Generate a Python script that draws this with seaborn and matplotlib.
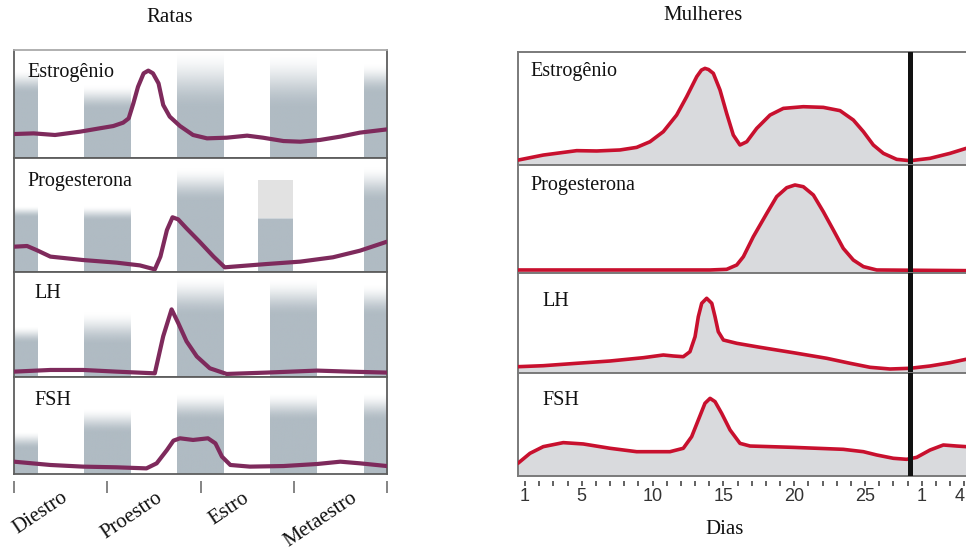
import numpy as np
import pandas as pd
import matplotlib
matplotlib.use("Agg")
import matplotlib.pyplot as plt
from matplotlib.patches import Rectangle
import matplotlib.transforms as mtransforms
import seaborn as sns

# ---------------- data ----------------
hormones = ["Estrogênio", "Progesterona", "LH", "FSH"]
rat_phases = ["Diestro", "Proestro", "Estro", "Metaestro"]
rat_phase_ticks = [0, 1, 2, 3, 4]

rat_estr_x = [0, 0.21, 0.44, 0.71, 0.92, 1.065, 1.17, 1.23, 1.28, 1.33, 1.39, 1.44, 1.49, 1.55, 1.60, 1.67, 1.78, 1.92, 2.07, 2.28, 2.50, 2.67, 2.89, 3.07, 3.28, 3.50, 3.71, 4.0]
rat_estr_y = [0.222, 0.228, 0.213, 0.244, 0.275, 0.296, 0.327, 0.367, 0.506, 0.66, 0.784, 0.809, 0.784, 0.691, 0.491, 0.383, 0.296, 0.213, 0.182, 0.188, 0.207, 0.188, 0.157, 0.151, 0.167, 0.198, 0.235, 0.265]

rat_prog_x = [0, 0.14, 0.24, 0.39, 0.74, 1.10, 1.35, 1.51, 1.57, 1.64, 1.70, 1.76, 1.85, 1.99, 2.14, 2.26, 2.35, 2.71, 3.07, 3.42, 3.71, 4.0]
rat_prog_y = [0.222, 0.228, 0.193, 0.135, 0.105, 0.082, 0.058, 0.023, 0.135, 0.368, 0.48, 0.462, 0.383, 0.266, 0.135, 0.041, 0.047, 0.070, 0.091, 0.129, 0.187, 0.266]

rat_lh_x = [0, 0.39, 0.74, 1.10, 1.51, 1.60, 1.69, 1.76, 1.85, 1.96, 2.10, 2.28, 2.71, 3.25, 3.60, 4.0]
rat_lh_y = [0.051, 0.067, 0.067, 0.051, 0.035, 0.388, 0.644, 0.516, 0.340, 0.196, 0.083, 0.029, 0.042, 0.061, 0.051, 0.042]

rat_fsh_x = [0, 0.39, 0.74, 1.10, 1.42, 1.53, 1.64, 1.71, 1.78, 1.92, 2.08, 2.16, 2.23, 2.32, 2.53, 2.89, 3.25, 3.50, 3.71, 4.0]
rat_fsh_y = [0.127, 0.093, 0.076, 0.069, 0.058, 0.110, 0.247, 0.344, 0.368, 0.351, 0.368, 0.316, 0.179, 0.093, 0.076, 0.082, 0.103, 0.127, 0.110, 0.082]

day_ticks = [1, 5, 10, 15, 20, 25, 29, 32]
day_tick_labels = ["1", "5", "10", "15", "20", "25", "1", "4"]
menses_day = 28.2

w_estr_x = [0.53, 2.29, 4.65, 6.06, 7.70, 8.88, 9.82, 10.76, 11.70, 12.41, 13.12, 13.45, 13.70, 13.95, 14.29, 14.76, 15.23, 15.70, 16.17, 16.65, 17.35, 18.29, 19.23, 20.64, 22.05, 23.23, 24.17, 24.88, 25.58, 26.29, 27.23, 28.17, 29.58, 30.99, 32.12]
w_estr_y = [0.044, 0.088, 0.127, 0.124, 0.133, 0.156, 0.206, 0.295, 0.442, 0.605, 0.782, 0.84, 0.855, 0.845, 0.811, 0.664, 0.457, 0.265, 0.177, 0.206, 0.324, 0.442, 0.501, 0.516, 0.510, 0.481, 0.398, 0.295, 0.177, 0.103, 0.050, 0.038, 0.059, 0.103, 0.147]

w_prog_x = [0.53, 14.06, 15.23, 15.94, 16.41, 17.11, 18.06, 18.76, 19.47, 20.05, 20.64, 21.35, 22.05, 22.76, 23.46, 24.17, 24.88, 25.82, 32.12]
w_prog_y = [0.028, 0.028, 0.034, 0.074, 0.151, 0.336, 0.552, 0.707, 0.790, 0.815, 0.799, 0.722, 0.568, 0.398, 0.228, 0.120, 0.059, 0.028, 0.022]

w_lh_x = [0.5, 2.29, 4.65, 7.0, 9.35, 10.76, 11.47, 12.17, 12.64, 13.0, 13.23, 13.47, 13.82, 14.18, 14.41, 14.64, 15.0, 15.94, 17.58, 19.94, 22.29, 23.94, 25.35, 26.76, 28.17, 29.58, 30.99, 32.12]
w_lh_y = [0.063, 0.073, 0.097, 0.12, 0.153, 0.18, 0.17, 0.163, 0.213, 0.363, 0.563, 0.697, 0.747, 0.697, 0.563, 0.413, 0.33, 0.297, 0.257, 0.203, 0.147, 0.097, 0.057, 0.04, 0.047, 0.07, 0.103, 0.137]

w_fsh_x = [0.5, 1.35, 2.29, 3.70, 5.11, 7.0, 8.88, 11.23, 12.17, 12.76, 13.23, 13.70, 14.06, 14.41, 14.88, 15.47, 16.17, 16.88, 19.94, 23.46, 24.88, 25.82, 26.99, 27.93, 28.64, 29.58, 30.52, 31.46, 32.12]
w_fsh_y = [0.123, 0.220, 0.285, 0.324, 0.311, 0.269, 0.236, 0.236, 0.269, 0.382, 0.544, 0.706, 0.754, 0.722, 0.608, 0.447, 0.317, 0.291, 0.278, 0.259, 0.236, 0.204, 0.172, 0.162, 0.181, 0.252, 0.301, 0.291, 0.285]

rat_series = [(rat_estr_x, rat_estr_y), (rat_prog_x, rat_prog_y), (rat_lh_x, rat_lh_y), (rat_fsh_x, rat_fsh_y)]
women_series = [(w_estr_x, w_estr_y), (w_prog_x, w_prog_y), (w_lh_x, w_lh_y), (w_fsh_x, w_fsh_y)]

# ---------------- style ----------------
sns.set_style("white")
plt.rcParams["font.family"] = ["Liberation Serif", "DejaVu Serif"]

W, H = 966, 555
fig = plt.figure(figsize=(W / 100, H / 100), dpi=100)

def fax(x0, x1, y0, y1):
    return fig.add_axes([x0 / W, 1 - y1 / H, (x1 - x0) / W, (y1 - y0) / H])

left_rows = [(50, 158), (158, 272), (272, 377), (377, 474)]
right_rows = [(52, 165), (165, 273), (273, 373), (373, 476)]
left_lab_pos = [(0.035, 0.753), (0.035, 0.757), (0.056, 0.757), (0.056, 0.711)]
right_lab_pos = [(0.027, 0.788), (0.027, 0.77), (0.054, 0.67), (0.054, 0.69)]

band_rgb = np.array([176, 187, 195]) / 255.0
# (center, half width, solid top, fade top) per band per row
band_specs = [
    [(0, .25, .60, .82), (1, .25, .45, .68), (2, .25, .45, 1.0), (3, .25, .45, .98), (4, .25, .60, .88)],
    [(0, .25, .48, .58), (1, .25, .45, .58), (2, .25, .62, .92), (2.805, .185, .47, .472), (4, .25, .62, .93)],
    [(0, .25, .32, .48), (1, .25, .30, .62), (2, .25, .58, .95), (3, .25, .58, .93), (4, .25, .58, .88)],
    [(0, .25, .26, .44), (1, .25, .42, .68), (2, .25, .55, .84), (3, .25, .55, .84), (4, .25, .55, .84)],
]

def draw_band(ax, c, hw, s, f):
    n = 300
    yy = np.linspace(0, 1, n)
    t = np.clip((f - yy) / max(f - s, 1e-3), 0, 1)
    alpha = t * t * (3 - 2 * t)
    rgba = np.zeros((n, 1, 4))
    rgba[..., :3] = band_rgb
    rgba[:, 0, 3] = alpha
    ax.imshow(rgba, extent=(c - hw, c + hw, 0, 1), origin="lower",
              aspect="auto", interpolation="bilinear", zorder=0)

rat_color = "#7e2a5c"
women_color = "#c8102e"
fill_color = "#d9dadd"

# ---------------- left (Ratas) ----------------
for i, (y0, y1) in enumerate(left_rows):
    ax = fax(14, 387, y0, y1)
    for (c, hw, s, f) in band_specs[i]:
        draw_band(ax, c, hw, s, f)
    if i == 1:
        ax.add_patch(Rectangle((2.62, 0.47), 0.37, 0.34, color="#e2e2e2", lw=0, zorder=0.5))
    xs, ys = rat_series[i]
    df = pd.DataFrame({"x": xs, "y": ys})
    sns.lineplot(data=df, x="x", y="y", ax=ax, color=rat_color, lw=3.0,
                 solid_joinstyle="round", solid_capstyle="round", zorder=3)
    ax.set_xlim(0, 4)
    ax.set_ylim(0, 1)
    ax.set_xticks([]); ax.set_yticks([])
    ax.set_xlabel(""); ax.set_ylabel("")
    for sp in ax.spines.values():
        sp.set_color("#5e5e5e"); sp.set_linewidth(1.3); sp.set_visible(True)
    if i == 0:
        ax.spines["top"].set_color("#aaaaaa")
    lx, ly = left_lab_pos[i]
    ax.text(lx, ly, hormones[i], transform=ax.transAxes, fontsize=14.5,
            ha="left", va="baseline", color="#111111", zorder=5)

# left tick strip
axt = fax(14, 387, 480, 481)
axt.set_xlim(0, 4)
axt.set_ylim(0, 1)
axt.set_yticks([])
axt.set_xticks(rat_phase_ticks)
axt.set_xticklabels([])
axt.tick_params(axis="x", bottom=True, direction="out", length=8.5, width=1.2, color="#6f6f6f")
for sp in axt.spines.values():
    sp.set_visible(False)
axt.patch.set_alpha(0)
phase_label_x = [0.58, 1.60, 2.53, 3.69]
blend = mtransforms.blended_transform_factory(axt.transData, fig.transFigure)
for px, lab in zip(phase_label_x, rat_phases):
    axt.text(px, 1 - 500 / H, lab, transform=blend,
             rotation=34, rotation_mode="anchor", ha="right", va="baseline",
             fontsize=15, color="#111111")

# ---------------- right (Mulheres) ----------------
for i, (y0, y1) in enumerate(right_rows):
    ax = fax(518, 966, y0, y1)
    xs, ys = women_series[i]
    ax.fill_between(xs, ys, 0, color=fill_color, lw=0, zorder=1)
    df = pd.DataFrame({"x": xs, "y": ys})
    sns.lineplot(data=df, x="x", y="y", ax=ax, color=women_color, lw=2.6,
                 solid_joinstyle="round", solid_capstyle="round", zorder=3)
    ax.axvline(menses_day, color="#111111", lw=3.6, zorder=4)
    ax.set_xlim(0.506, 32.12)
    ax.set_ylim(0, 1)
    ax.set_xticks([]); ax.set_yticks([])
    ax.set_xlabel(""); ax.set_ylabel("")
    for sp in ax.spines.values():
        sp.set_color("#7a7a7a"); sp.set_linewidth(1.4); sp.set_visible(True)
    ax.spines["right"].set_visible(False)
    lx, ly = right_lab_pos[i]
    ax.text(lx, ly, hormones[i], transform=ax.transAxes, fontsize=14.5,
            ha="left", va="baseline", color="#111111", zorder=5)

# right tick strip
axr = fax(518, 966, 480, 481)
axr.set_xlim(0.506, 32.12)
axr.set_ylim(0, 1)
axr.set_yticks([])
axr.set_xticks(day_ticks)
labels = axr.set_xticklabels(day_tick_labels, family=["Liberation Sans", "DejaVu Sans"], fontsize=13, color="#333333")
labels[-1].set_horizontalalignment("right")
labels[-1].set_x(32.2)
axr.set_xticks(list(range(1, 33)), minor=True)
axr.tick_params(axis="x", which="both", bottom=True, direction="out", length=3.8, width=1.3, color="#555555", pad=1.5)
for sp in axr.spines.values():
    sp.set_visible(False)
axr.patch.set_alpha(0)

# titles
fig.text(170 / W, 1 - 18 / H, "Ratas", ha="center", va="center", fontsize=15, color="#111111")
fig.text(703 / W, 1 - 16 / H, "Mulheres", ha="center", va="center", fontsize=15, color="#111111")
fig.text(725 / W, 1 - 530 / H, "Dias", ha="center", va="center", fontsize=15, color="#111111")

fig.savefig("out.png", dpi=100)
